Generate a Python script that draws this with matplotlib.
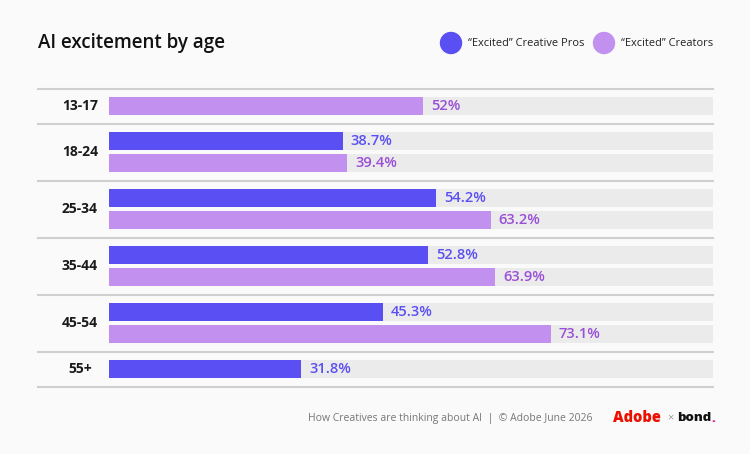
import matplotlib
matplotlib.use("Agg")
import matplotlib.pyplot as plt
from matplotlib.patches import Ellipse

plt.rcParams["font.family"] = ["Open Sans", "DejaVu Sans"]

ages = ["13-17", "18-24", "25-34", "35-44", "45-54", "55+"]
pros = [None, 38.7, 54.2, 52.8, 45.3, 31.8]
creators = [52, 39.4, 63.2, 63.9, 73.1, None]

PRO_COL = "#5a4ff3"
CRE_COL = "#c290ee"
CRE_TXT = "#9a4fd8"
TRACK = "#ebebeb"
BG = "#fafafa"
LINE = "#cfcfcf"

W, H = 750, 454
fig = plt.figure(figsize=(W / 100, H / 100), dpi=100)
fig.patch.set_facecolor(BG)

# axes: x in percent, y in pixel rows
top_px, bot_px = 85, 392
ax = fig.add_axes([109 / W, 1 - bot_px / H, (713 - 109) / W, (bot_px - top_px) / H])
ax.set_xlim(0, 100)
ax.set_ylim(bot_px, top_px)
ax.axis("off")

BAR_H, GAP, PAD = 18, 4, 8
y = 89
seps = [y]
for age, p, c in zip(ages, pros, creators):
    vals = [(v, col, tc) for v, col, tc in ((p, PRO_COL, PRO_COL), (c, CRE_COL, CRE_TXT)) if v is not None]
    band = PAD * 2 + BAR_H * len(vals) + GAP * (len(vals) - 1)
    yy = y + PAD + BAR_H / 2
    centers = []
    for v, col, tc in vals:
        ax.barh(yy, 100, height=BAR_H, color=TRACK, zorder=1)
        ax.barh(yy, v, height=BAR_H, color=col, zorder=2)
        ax.annotate(f"{v:g}%", (v, yy), xytext=(8, 0), textcoords="offset pixels",
                    va="center", ha="left", fontsize=10.5, color=tc, fontweight="semibold", zorder=3)
        centers.append(yy)
        yy += BAR_H + GAP
    mid = (centers[0] + centers[-1]) / 2
    fig.text(80 / W, 1 - mid / H, age, ha="center", va="center", fontsize=10,
             fontweight="bold", color="#1a1a1a")
    y += band + 1
    seps.append(y)

for s in seps:
    fig.add_artist(plt.Line2D([38 / W, 713 / W], [1 - s / H, 1 - s / H], color=LINE, lw=1.5))

fig.text(38 / W, 1 - 43 / H, "AI excitement by age", fontsize=13.5, fontweight="semibold",
         color="#111111", va="center", ha="left")

# legend
for cx, label, col in [(451, "\u201cExcited\u201d Creative Pros", PRO_COL),
                       (604, "\u201cExcited\u201d Creators", CRE_COL)]:
    fig.add_artist(Ellipse((cx / W, 1 - 43 / H), 21 / W, 21 / H, transform=fig.transFigure,
                           color=col))
    fig.text((cx + 17) / W, 1 - 43 / H, label, fontsize=7.9, va="center", ha="left",
             color="#222222")

# footer
fig.text(593 / W, 1 - 419 / H, "How Creatives are thinking about AI  |  \u00a9 Adobe June 2026",
         fontsize=7.5, ha="right", va="center", color="#777777")
fig.text(613 / W, 1 - 418 / H, "Adobe", fontsize=10.5, fontweight="heavy", color="#eb1000",
         ha="left", va="center")
fig.text(667 / W, 1 - 418 / H, "\u00d7", fontsize=8, color="#999999", ha="left", va="center")
bond = fig.text(677 / W, 1 - 418 / H, "bond", fontsize=9.5, fontweight="heavy", color="#111111",
                ha="left", va="center")
ax.annotate(".", xy=(1, -0.1), xycoords=bond, fontsize=9.5, fontweight="heavy",
            color="#e0129f", ha="left", va="bottom", annotation_clip=False)

fig.savefig("out.png", dpi=100, facecolor=fig.get_facecolor())
